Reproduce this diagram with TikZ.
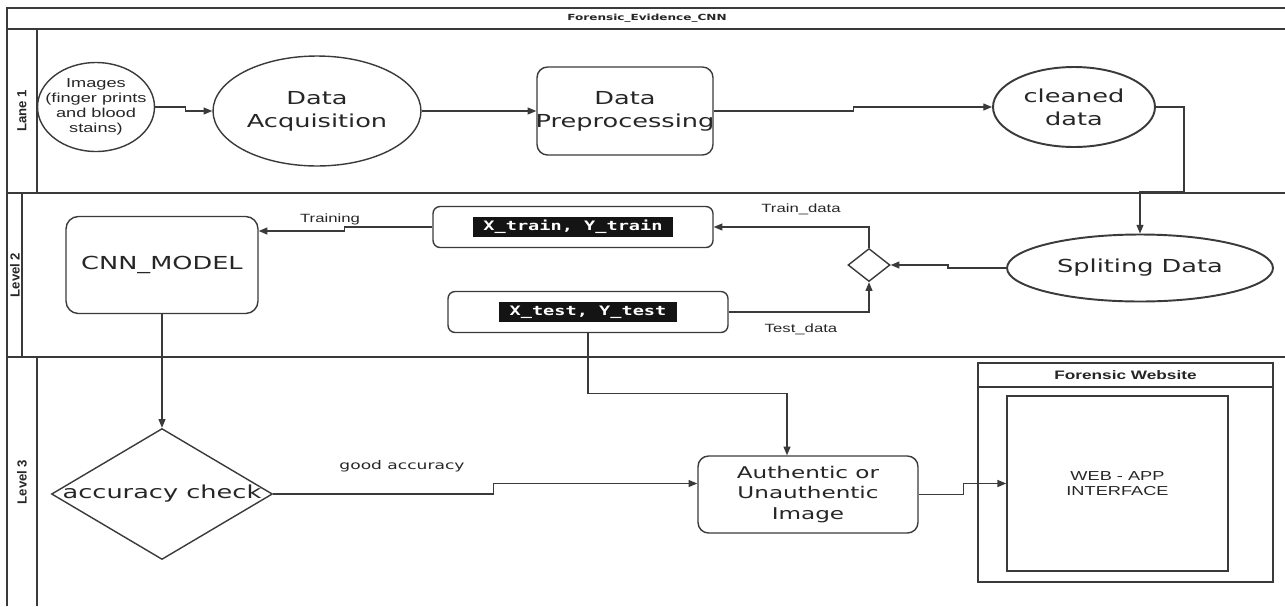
\documentclass[tikz,border=0pt]{standalone}
\usepackage{fontspec}
\setmainfont{DejaVu Sans}[FakeStretch=1.43]
\newfontfamily\smallsans{Liberation Sans}[FakeStretch=1.4]
\newfontfamily\lanesans{Liberation Sans}
\newfontfamily\codemono{DejaVu Sans Mono}[FakeStretch=1.43]
\usetikzlibrary{shapes.geometric}
\usetikzlibrary{arrows.meta}

\definecolor{linegray}{HTML}{3A3A3A}
\definecolor{textgray}{HTML}{262626}

\tikzset{
    lane/.style={draw=linegray, line width=0.85pt},
    outline/.style={draw=linegray, line width=0.8pt},
    oval/.style={outline, ellipse, inner sep=0pt},
    roundbox/.style={outline, rectangle, rounded corners=5.5pt, inner sep=0pt},
    bigtext/.style={font=\fontsize{10.2}{13}\selectfont, text=textgray, align=center},
    imgtext/.style={font=\smallsans\fontsize{7.4}{8.5}\selectfont, text=textgray, align=center},
    smalltext/.style={font=\smallsans\fontsize{6.8}{8}\selectfont, text=textgray},
    goodtext/.style={font=\fontsize{6.8}{8}\selectfont, text=textgray},
    lanetext/.style={font=\lanesans\bfseries\fontsize{7.5}{9}\selectfont, text=textgray, rotate=90},
    codetext/.style={fill=black!92, text=white, font=\codemono\bfseries\fontsize{7.4}{8}\selectfont,
        inner xsep=6pt, inner ysep=0pt, minimum height=0.4cm},
    flow/.style={draw=linegray, line width=0.7pt, -{Triangle[length=5pt,width=4pt]}},
}

\begin{document}
\begin{tikzpicture}[x=0.02cm, y=-0.02cm]

    \useasboundingbox (0,0) rectangle (1285,606);

    % lanes
    \draw[lane] (7,606) -- (7,8) -- (1285,8);
    \draw[lane] (7,29) -- (1285,29);
    \draw[lane] (7,193) -- (1285,193);
    \draw[lane] (7,357) -- (1285,357);
    \draw[lane] (37,29) -- (37,193);
    \draw[lane] (22,193) -- (22,357);
    \draw[lane] (37,357) -- (37,606);

    \node[font=\bfseries\fontsize{4.8}{6}\selectfont, text=textgray] (title) at (647,18) {Forensic\_Evidence\_CNN};
    \node[lanetext] (lane1) at (22,111) {Lane 1};
    \node[lanetext] (level2) at (15,275) {Level 2};
    \node[lanetext] (level3) at (22,482) {Level 3};

    % lane 1
    \node[oval, minimum width=2.34cm, minimum height=1.78cm,
        label={[imgtext]center:{Images\\(finger prints\\and blood\\stains)}}] (img) at (96,107) {};
    \node[oval, bigtext, minimum width=4.16cm, minimum height=2.2cm] (acq) at (317,111) {Data\\Acquisition};
    \node[roundbox, rounded corners=6pt, minimum width=3.52cm, minimum height=1.76cm,
        label={[bigtext]center:{Data\\Preprocessing}}] (pre) at (625,111) {};
    \node[oval, bigtext, line width=1.1pt, minimum width=3.24cm, minimum height=1.6cm] (clean) at (1074,107) {cleaned\\data};

    % level 2
    \node[oval, bigtext, line width=1.1pt, minimum width=5.32cm, minimum height=1.34cm] (split) at (1140,268) {Spliting Data};
    \node[outline, diamond, inner sep=0pt, minimum width=0.84cm, minimum height=0.66cm] (dia) at (869,265) {};
    \node[roundbox, rounded corners=4pt, minimum width=5.6cm, minimum height=0.82cm,
        label={[codetext]center:{X\_train, Y\_train}}] (xtrain) at (573,227) {};
    \node[roundbox, rounded corners=4pt, minimum width=5.6cm, minimum height=0.82cm,
        label={[codetext]center:{X\_test, Y\_test}}] (xtest) at (588,312) {};
    \node[roundbox, bigtext, rounded corners=7pt, minimum width=3.84cm, minimum height=1.94cm] (cnn) at (162,265) {CNN\_MODEL};

    % level 3
    \node[outline, diamond, inner sep=0pt, minimum width=4.42cm, minimum height=2.62cm,
        label={[bigtext]center:{accuracy check}}] (acc) at (162,494) {};
    \node[roundbox, rounded corners=6pt, minimum width=4.4cm, minimum height=1.54cm,
        font=\fontsize{9.2}{11.6}\selectfont, text=textgray, align=center] (auth) at (808,494.5) {Authentic or\\Unauthentic\\Image};
    \node[outline, line width=0.9pt, minimum width=5.9cm, minimum height=4.38cm] (site) at (1125.5,472.5) {};
    \draw[lane] ([yshift=-0.5cm]site.north west) -- ([yshift=-0.5cm]site.north east);
    \node[font=\smallsans\bfseries\fontsize{7}{8}\selectfont, text=textgray] (sitehead) at ([yshift=-0.25cm]site.north) {Forensic Website};
    \node[outline, line width=0.9pt, minimum width=4.42cm, minimum height=3.5cm,
        font=\smallsans\fontsize{7.4}{9}\selectfont, text=textgray, align=center] (webin) at (1117.5,483.5) {WEB - APP\\INTERFACE};

    % connectors
    \draw[flow] (img.east) -- ++(30,0) |- (acq.west);
    \draw[flow] (acq.east) -- (pre.west);
    \draw[flow] (pre.east) -- ++(140,0) |- (clean.west);
    \draw[flow] (clean.east) -- ++(28,0) -- ++(0,85) -| (split.north);
    \draw[flow] (split.west) -- ++(-58,0) |- (dia.east);
    \draw[flow] (dia.north) |- (xtrain.east);
    \draw[flow] (xtest.east) -| (dia.south);
    \draw[flow] (xtrain.west) -- ++(-88,0) |- ([yshift=0.68cm]cnn.east);
    \draw[flow] (cnn.south) -- (acc.north);
    \draw[flow] (acc.east) -- ++(220,0) |- ([yshift=0.22cm]auth.west);
    \draw[flow] (xtest.south) -- ++(0,60) -| ([xshift=-0.42cm]auth.north);
    \draw[flow] (auth.east) -- ++(45,0) |- (webin.west);

    \node[smalltext] (trainlbl) at (801,209) {Train\_data};
    \node[smalltext] (testlbl) at (801,329) {Test\_data};
    \node[smalltext] (traininglbl) at (330,219) {Training};
    \node[goodtext] (goodlbl) at (402,466) {good accuracy};

\end{tikzpicture}
\end{document}
